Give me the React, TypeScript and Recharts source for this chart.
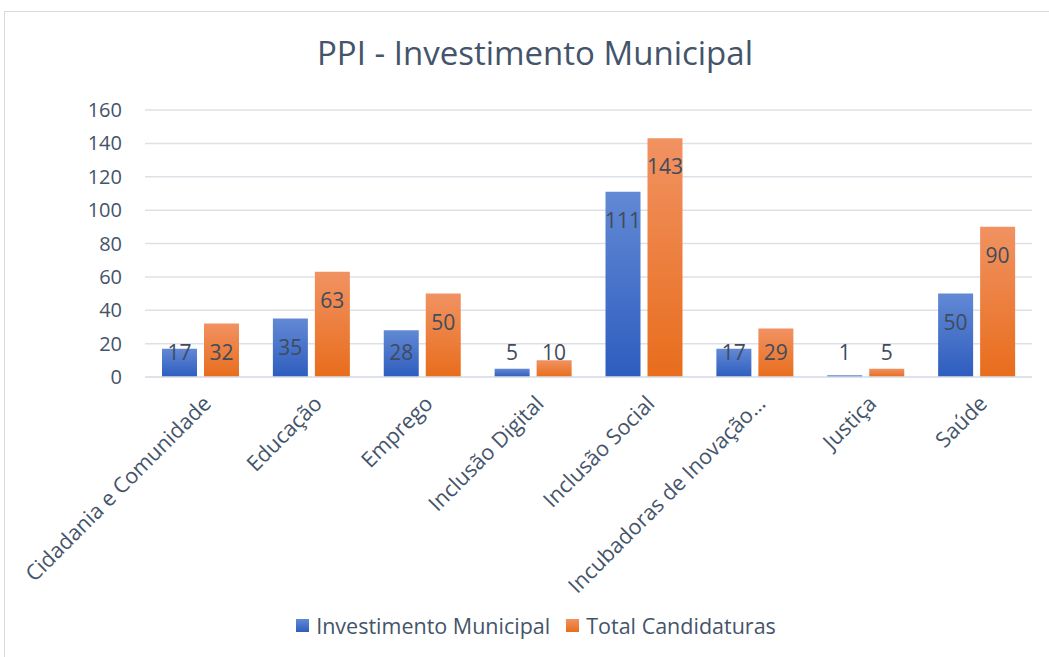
import React from 'react';
import { BarChart, Bar, XAxis, YAxis, CartesianGrid, Legend, LabelList } from 'recharts';

const categories = [
  'Cidadania e Comunidade',
  'Educação',
  'Emprego',
  'Inclusão Digital',
  'Inclusão Social',
  'Incubadoras de Inovação…',
  'Justiça',
  'Saúde',
];
const investimentoMunicipal = [17, 35, 28, 5, 111, 17, 1, 50];
const totalCandidaturas = [32, 63, 50, 10, 143, 29, 5, 90];
const yTicks = [0, 20, 40, 60, 80, 100, 120, 140, 160];

const seriesNames = ['Investimento Municipal', 'Total Candidaturas'];

const data = categories.map((name, i) => ({
  name,
  investimento: investimentoMunicipal[i],
  candidaturas: totalCandidaturas[i],
}));

const FONT = '"Open Sans", sans-serif';
const TEXT = '#44546A';

const InsideLabel = (props: any) => {
  const { x, y, width, height, value } = props;
  const base = y + height;
  const cy = Math.min(y + 28, base - 25);
  return (
    <text
      x={x + width / 2}
      y={cy}
      textAnchor="middle"
      dominantBaseline="central"
      fill="#404B5C"
      fontSize={21}
      fontFamily={FONT}
    >
      {value}
    </text>
  );
};

const AngledTick = (props: any) => {
  const { x, y, payload } = props;
  const tx = x + 12;
  const ty = y + 20;
  return (
    <text
      x={tx}
      y={ty}
      transform={`rotate(-45, ${tx}, ${ty})`}
      textAnchor="end"
      fill={TEXT}
      fontSize={21.5}
      fontFamily={FONT}
    >
      {payload.value}
    </text>
  );
};

const LegendContent = () => (
  <div
    style={{
      display: 'flex',
      justifyContent: 'center',
      alignItems: 'center',
      fontFamily: FONT,
      fontSize: 21.5,
      color: TEXT,
      height: 40,
    }}
  >
    {seriesNames.map((n, i) => (
      <div key={n} style={{ display: 'flex', alignItems: 'center', marginLeft: i ? 16 : 0 }}>
        <span
          style={{
            display: 'inline-block',
            width: 13,
            height: 13,
            marginRight: 7,
            background: i
              ? 'linear-gradient(#F19262, #E86D1C)'
              : 'linear-gradient(#6289D4, #2E5DBF)',
          }}
        />
        <span>{n}</span>
      </div>
    ))}
  </div>
);

export default function App() {
  return (
    <div
      style={{
        position: 'absolute',
        left: 0,
        top: 0,
        width: 1049,
        height: 657,
        overflow: 'hidden',
        background: '#fff',
      }}
    >
      <div
        style={{
          position: 'absolute',
          left: 4,
          top: 11,
          width: 1100,
          height: 700,
          border: '1.5px solid #D9D9D9',
        }}
      />
      <div
        style={{
          position: 'absolute',
          top: 37,
          left: 0,
          width: 1070,
          textAlign: 'center',
          fontFamily: FONT,
          fontSize: 33,
          lineHeight: '32px',
          color: TEXT,
        }}
      >
        PPI - Investimento Municipal
      </div>
      <div style={{ position: 'absolute', left: 0, top: 0 }}>
        <BarChart
          width={1049}
          height={657}
          data={data}
          margin={{ top: 110, right: 17, left: 0, bottom: 12 }}
          barSize={35}
          barGap={7}
        >
          <defs>
            <linearGradient id="gBlue" x1="0" y1="0" x2="0" y2="1">
              <stop offset="0%" stopColor="#6289D4" />
              <stop offset="100%" stopColor="#2E5DBF" />
            </linearGradient>
            <linearGradient id="gOrange" x1="0" y1="0" x2="0" y2="1">
              <stop offset="0%" stopColor="#F19262" />
              <stop offset="100%" stopColor="#E86D1C" />
            </linearGradient>
          </defs>
          <CartesianGrid vertical={false} stroke="#DDE1E7" strokeWidth={1.5} />
          <XAxis
            dataKey="name"
            interval={0}
            height={228}
            tick={<AngledTick />}
            tickLine={false}
            axisLine={{ stroke: '#DDE1E7', strokeWidth: 1.5 }}
          />
          <YAxis
            width={145}
            domain={[0, 160]}
            ticks={yTicks}
            tickLine={false}
            axisLine={false}
            tickSize={0}
            tickMargin={23}
            tick={{ fill: TEXT, fontSize: 20, fontFamily: FONT }}
          />
          <Legend
            verticalAlign="bottom"
            wrapperStyle={{ left: 20, width: 1032 }}
            content={<LegendContent />}
          />
          <Bar dataKey="investimento" name={seriesNames[0]} fill="url(#gBlue)" isAnimationActive={false}>
            <LabelList dataKey="investimento" content={<InsideLabel />} />
          </Bar>
          <Bar dataKey="candidaturas" name={seriesNames[1]} fill="url(#gOrange)" isAnimationActive={false}>
            <LabelList dataKey="candidaturas" content={<InsideLabel />} />
          </Bar>
        </BarChart>
      </div>
    </div>
  );
}
